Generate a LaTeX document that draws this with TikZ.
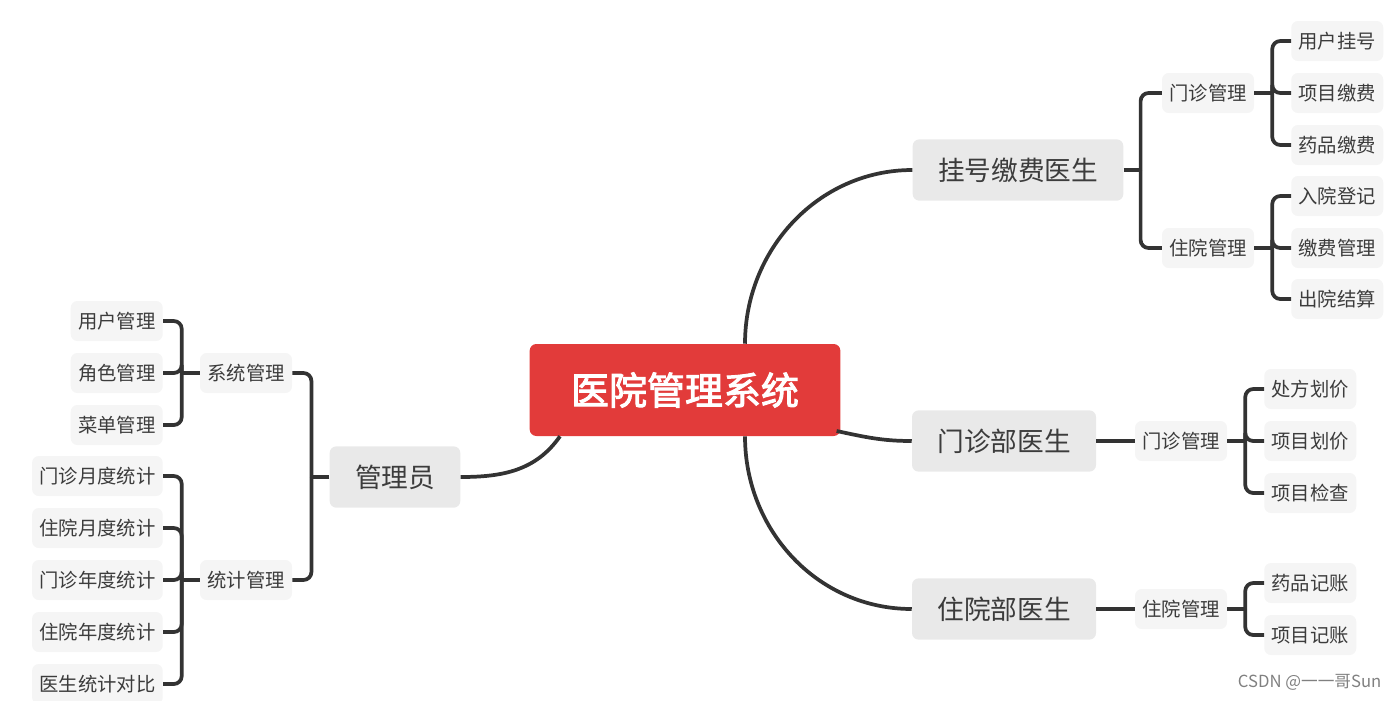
\documentclass[tikz,border=0pt]{standalone}
\usepackage{fontspec}
\setmainfont{Noto Sans CJK SC}
\newfontfamily\cjkbold{Noto Sans CJK SC}[FakeBold=2.5]
\usetikzlibrary{positioning}
\usetikzlibrary{calc}

\definecolor{rootred}{HTML}{E23B3A}
\definecolor{boxgray}{HTML}{E9E9E9}
\definecolor{leafgray}{HTML}{F5F5F5}
\definecolor{linegray}{HTML}{333333}
\definecolor{textgray}{HTML}{3C3C3C}

\begin{document}
\begin{tikzpicture}[x=0.75pt, y=-0.75pt,
  rootbox/.style={fill=rootred, text=white, rounded corners=5pt, inner xsep=31pt, minimum height=69pt, font=\cjkbold\fontsize{28.5}{30}\selectfont},
  docbox/.style={fill=boxgray, text=textgray, rounded corners=5pt, inner xsep=19pt, minimum height=46pt, font=\fontsize{20}{22}\selectfont},
  subbox/.style={fill=leafgray, text=textgray, rounded corners=5pt, inner xsep=5.5pt, minimum height=30pt, font=\fontsize{14.5}{16}\selectfont},
  link/.style={draw=linegray, line width=2.8pt},
  branch/.style={link, rounded corners=6pt}]

      \useasboundingbox (0,0) rectangle (1398,700);

      % centre and doctors
      \node[rootbox] (root) at (685,390) {医院管理系统};
      \node[docbox] (reg) at (1018,170) {挂号缴费医生};
      \node[docbox] (opd) at (1004,441) {门诊部医生};
      \node[docbox] (inp) at (1004,609) {住院部医生};
      \node[docbox] (adm) at (395,477) {管理员};

      % second level
      \node[subbox] (regout) at (1208,93) {门诊管理};
      \node[subbox] (regin) at (1208,248) {住院管理};
      \node[subbox] (opdmg) at (1181,441) {门诊管理};
      \node[subbox] (inpmg) at (1181,609) {住院管理};
      \node[subbox] (sysmg) at (246,373) {系统管理};
      \node[subbox] (stamg) at (246,580) {统计管理};

      % leaves
      \foreach \name/\y/\txt in {ro1/41/用户挂号, ro2/93/项目缴费, ro3/145/药品缴费,
                                  ri1/196/入院登记, ri2/248/缴费管理, ri3/299/出院结算} {
        \node[subbox, anchor=west] (\name) at (1291,\y) {\txt};
      }
      \foreach \name/\y/\txt in {op1/389/处方划价, op2/441/项目划价, op3/493/项目检查,
                                  ip1/583/药品记账, ip2/635/项目记账} {
        \node[subbox, anchor=west] (\name) at (1264,\y) {\txt};
      }
      \foreach \name/\y/\txt in {sy1/321/用户管理, sy2/373/角色管理, sy3/425/菜单管理,
                                  st1/476/门诊月度统计, st2/528/住院月度统计, st3/580/门诊年度统计,
                                  st4/632/住院年度统计, st5/684/医生统计对比} {
        \node[subbox, anchor=east] (\name) at (163,\y) {\txt};
      }

      \node[text=gray, anchor=east, font=\fontsize{12.5}{14}\selectfont] (mark) at (1386,682) {CSDN @一一哥Sun};

      % curves from the centre
      \draw[link] ($(root.north)+(60,0)$) to[out=90, in=180] (reg.west);
      \draw[link] ($(root.east)+(-4,41)$) to[out=-12, in=180] (opd.west);
      \draw[link] ($(root.south)+(60,0)$) to[out=-90, in=180] (inp.west);
      \draw[link] ($(root.south)+(-125,0)$) to[out=-125, in=0] (adm.east);

      % brackets
      \coordinate (sreg) at ($(reg.east)+(17,0)$);
      \draw[link] (reg.east) -- (sreg);
      \foreach \c in {regout, regin} \draw[branch] (sreg) |- (\c.west);

      \coordinate (sout) at ($(regout.east)+(18,0)$);
      \draw[link] (regout.east) -- (sout);
      \foreach \c in {ro1, ro2, ro3} \draw[branch] (sout) |- (\c.west);

      \coordinate (sin) at ($(regin.east)+(18,0)$);
      \draw[link] (regin.east) -- (sin);
      \foreach \c in {ri1, ri2, ri3} \draw[branch] (sin) |- (\c.west);

      \draw[link] (opd.east) -- (opdmg.west);
      \coordinate (sopd) at ($(opdmg.east)+(18,0)$);
      \draw[link] (opdmg.east) -- (sopd);
      \foreach \c in {op1, op2, op3} \draw[branch] (sopd) |- (\c.west);

      \draw[link] (inp.east) -- (inpmg.west);
      \coordinate (sinp) at ($(inpmg.east)+(18,0)$);
      \draw[link] (inpmg.east) -- (sinp);
      \foreach \c in {ip1, ip2} \draw[branch] (sinp) |- (\c.west);

      \coordinate (sadm) at ($(adm.west)+(-18,0)$);
      \draw[link] (adm.west) -- (sadm);
      \foreach \c in {sysmg, stamg} \draw[branch] (sadm) |- (\c.east);

      \coordinate (ssys) at ($(sysmg.west)+(-18,0)$);
      \draw[link] (sysmg.west) -- (ssys);
      \foreach \c in {sy1, sy2, sy3} \draw[branch] (ssys) |- (\c.east);

      \coordinate (ssta) at ($(stamg.west)+(-18,0)$);
      \draw[link] (stamg.west) -- (ssta);
      \foreach \c in {st1, st2, st3, st4, st5} \draw[branch] (ssta) |- (\c.east);
    \end{tikzpicture}
\end{document}
